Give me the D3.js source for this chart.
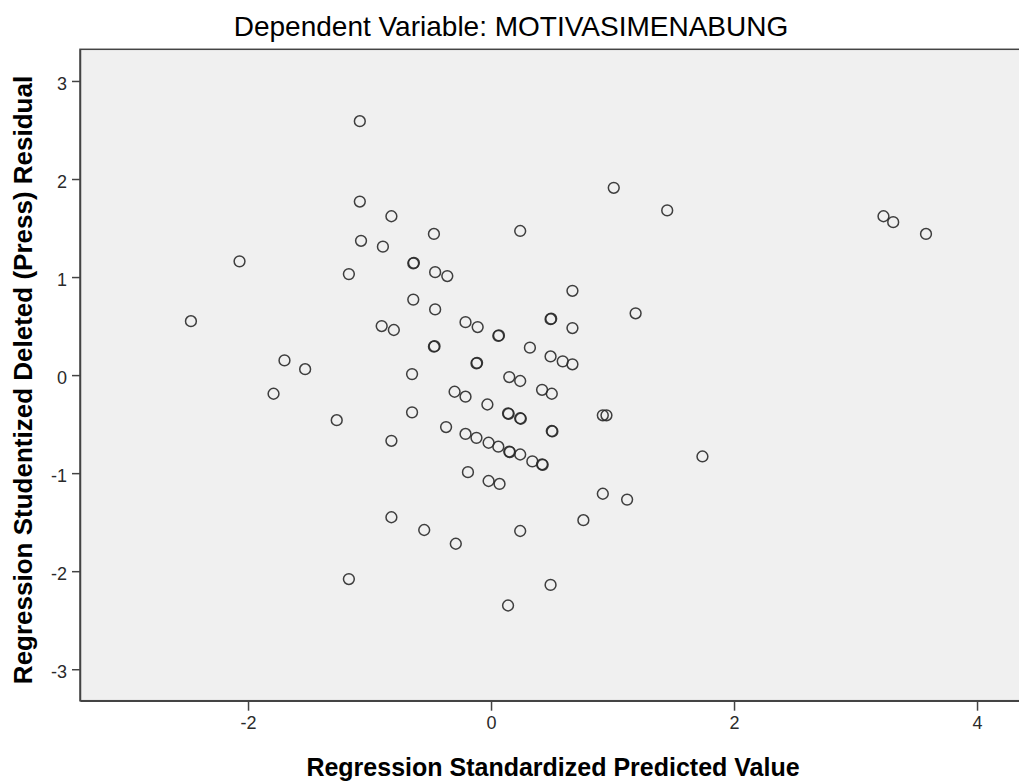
<!DOCTYPE html>
<html>
<head>
<meta charset="utf-8">
<script src="https://cdn.jsdelivr.net/npm/d3@7/dist/d3.min.js"></script>
<style>
  html, body { margin: 0; padding: 0; background: #ffffff; }
  svg { display: block; }
  text { font-family: "Liberation Sans", Arial, sans-serif; }
</style>
</head>
<body>
<svg id="chart" width="1019" height="783"></svg>
<script>
// ---- Data ----
const titleText = "Dependent Variable: MOTIVASIMENABUNG";
const xLabel = "Regression Standardized Predicted Value";
const yLabel = "Regression Studentized Deleted (Press) Residual";
const xTicks = [-2, 0, 2, 4];
const yTicks = [-3, -2, -1, 0, 1, 2, 3];

// Regression standardized predicted values
const predicted = [
  -1.08, -1.08, -0.82, -0.47, -1.07, -0.89, -2.07, -0.64, -0.635, -1.17,
  -0.46, -0.36, -0.64, -0.46, -2.47, -0.21, -0.11, -0.90, -0.80, -0.47,
  -0.465, -0.12, -0.115, -1.70, -1.53, -0.65, -1.79, -0.30, -0.21, -0.65,
  -1.27, -0.37, -0.21, -0.12, -0.82, -0.19, 0.67, 1.19, 0.49, 0.495,
  0.06, 0.065, 0.67, 0.32, 0.49, 0.59, 0.67, 0.15, 0.24, 0.42,
  0.50, -0.03, 0.14, 0.145, 0.24, 0.245, 0.92, 0.95, 0.50, 0.505,
  -0.02, 0.06, 0.15, 0.155, 0.24, 0.34, 0.42, 0.425, -0.02, 0.07,
  1.74, 0.92, 1.12, 1.01, 1.45, 0.24, 3.23, 3.31, 3.58, -0.82,
  -0.55, -0.29, -1.17, 0.76, 0.24, 0.49, 0.14
];
// Regression studentized deleted (press) residuals
const residual = [
  2.59, 1.77, 1.62, 1.44, 1.37, 1.31, 1.16, 1.14, 1.145, 1.03,
  1.05, 1.01, 0.77, 0.67, 0.55, 0.54, 0.49, 0.50, 0.46, 0.29,
  0.295, 0.12, 0.125, 0.15, 0.06, 0.01, -0.19, -0.17, -0.22, -0.38,
  -0.46, -0.53, -0.60, -0.64, -0.67, -0.99, 0.86, 0.63, 0.57, 0.575,
  0.40, 0.405, 0.48, 0.28, 0.19, 0.14, 0.11, -0.02, -0.06, -0.15,
  -0.19, -0.30, -0.39, -0.395, -0.44, -0.445, -0.41, -0.41, -0.57, -0.575,
  -0.69, -0.73, -0.78, -0.785, -0.81, -0.88, -0.91, -0.915, -1.08, -1.11,
  -0.83, -1.21, -1.27, 1.91, 1.68, 1.47, 1.62, 1.56, 1.44, -1.45,
  -1.58, -1.72, -2.08, -1.48, -1.59, -2.14, -2.35
];

const points = predicted.map((x, i) => ({ x: x, y: residual[i] }));

// ---- Layout ----
const svg = d3.select("#chart");
const plot = { left: 80, top: 49.3, right: 1026, bottom: 700.7 };

const x = d3.scaleLinear().domain([-3.383, 4.403]).range([plot.left, plot.right]);
const y = d3.scaleLinear().domain([-3.321, 3.323]).range([plot.bottom, plot.top]);

// plot background
svg.append("rect")
  .attr("x", plot.left).attr("y", plot.top)
  .attr("width", plot.right - plot.left).attr("height", plot.bottom - plot.top)
  .attr("fill", "#f0f0f0")
  .attr("stroke", "#444").attr("stroke-width", 1.5);

// points
svg.append("g")
  .selectAll("circle")
  .data(points)
  .join("circle")
  .attr("cx", d => x(d.x))
  .attr("cy", d => y(d.y))
  .attr("r", 5.4)
  .attr("fill", "none")
  .attr("stroke", "#2a2a2a")
  .attr("stroke-opacity", 0.9)
  .attr("stroke-width", 1.5);

// axes
const fmt = d => String(d);
const xAxis = svg.append("g")
  .attr("transform", `translate(0,${plot.bottom})`)
  .call(d3.axisBottom(x).tickValues(xTicks).tickFormat(fmt).tickSizeInner(10).tickSizeOuter(0).tickPadding(6));
const yAxis = svg.append("g")
  .attr("transform", `translate(${plot.left},0)`)
  .call(d3.axisLeft(y).tickValues(yTicks).tickFormat(fmt).tickSizeInner(8).tickSizeOuter(0).tickPadding(5));

[xAxis, yAxis].forEach(g => {
  g.select(".domain").attr("stroke", "#444").attr("stroke-width", 1.5);
  g.selectAll(".tick line").attr("stroke", "#444").attr("stroke-width", 1.5);
  g.selectAll(".tick text")
    .attr("fill", "#2a2a2a")
    .style("font-family", '"Liberation Sans", Arial, sans-serif')
    .style("font-size", "18px");
});
yAxis.selectAll(".tick text").attr("dy", "0.45em");

// title
svg.append("text")
  .attr("x", 511).attr("y", 36)
  .attr("text-anchor", "middle")
  .attr("fill", "#000")
  .style("font-size", "28px")
  .text(titleText);

// x label
svg.append("text")
  .attr("x", 553).attr("y", 776)
  .attr("text-anchor", "middle")
  .attr("fill", "#000")
  .style("font-size", "25px")
  .style("font-weight", "bold")
  .text(xLabel);

// y label
svg.append("text")
  .attr("transform", `translate(32,${(plot.top + plot.bottom) / 2 + 5}) rotate(-90)`)
  .attr("text-anchor", "middle")
  .attr("fill", "#000")
  .style("font-size", "26px")
  .style("font-weight", "bold")
  .text(yLabel);
</script>
</body>
</html>
